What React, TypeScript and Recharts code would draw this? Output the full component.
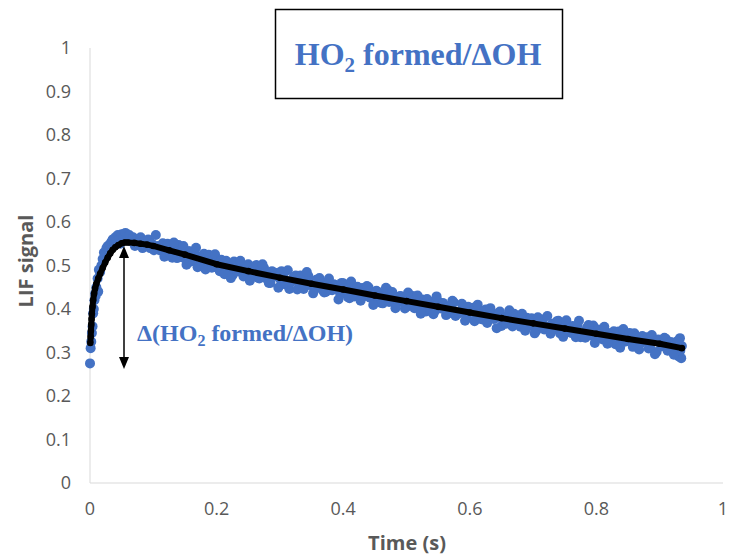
import React from "react";
import { ScatterChart, Scatter, XAxis, YAxis } from "recharts";

// measured LIF signal (time in s)
const dataTime = [
  0.0, 0.001, 0.002, 0.003, 0.004, 0.005, 0.006, 0.007, 0.008, 0.009, 0.01, 0.012, 0.013, 0.014,
  0.016, 0.018, 0.02, 0.022, 0.024, 0.026, 0.028, 0.03, 0.032, 0.034, 0.036, 0.038, 0.04, 0.042,
  0.044, 0.046, 0.048, 0.05, 0.053, 0.056, 0.059, 0.062, 0.065, 0.068, 0.071, 0.074, 0.077, 0.08,
  0.083, 0.086, 0.089, 0.092, 0.095, 0.098, 0.101, 0.104, 0.107, 0.11,
  0.115, 0.12, 0.125, 0.13, 0.135, 0.14, 0.145, 0.15, 0.155, 0.16, 0.165, 0.17, 0.175, 0.18,
  0.185, 0.19, 0.195, 0.2, 0.205, 0.21, 0.215, 0.22, 0.225, 0.23, 0.235, 0.24, 0.245, 0.25,
  0.255, 0.26, 0.265, 0.27, 0.275, 0.28, 0.285, 0.29, 0.295, 0.3, 0.305, 0.31, 0.315, 0.32,
  0.325, 0.33, 0.335, 0.34, 0.345, 0.35, 0.355, 0.36, 0.365, 0.37, 0.375, 0.38, 0.385, 0.39,
  0.395, 0.4, 0.405, 0.41, 0.415, 0.42, 0.425, 0.43, 0.435, 0.44, 0.445, 0.45, 0.455, 0.46,
  0.465, 0.47, 0.475, 0.48, 0.485, 0.49, 0.495, 0.5, 0.505, 0.51, 0.515, 0.52, 0.525, 0.53,
  0.535, 0.54, 0.545, 0.55, 0.555, 0.56, 0.565, 0.57, 0.575, 0.58, 0.585, 0.59, 0.595, 0.6,
  0.605, 0.61, 0.615, 0.62, 0.625, 0.63, 0.635, 0.64, 0.645, 0.65, 0.655, 0.66, 0.665, 0.67,
  0.675, 0.68, 0.685, 0.69, 0.695, 0.7, 0.705, 0.71, 0.715, 0.72, 0.725, 0.73, 0.735, 0.74,
  0.745, 0.75, 0.755, 0.76, 0.765, 0.77, 0.775, 0.78, 0.785, 0.79, 0.795, 0.8, 0.805, 0.81,
  0.815, 0.82, 0.825, 0.83, 0.835, 0.84, 0.845, 0.85, 0.855, 0.86, 0.865, 0.87, 0.875, 0.88,
  0.885, 0.89, 0.895, 0.9, 0.905, 0.91, 0.915, 0.92, 0.925, 0.93, 0.932, 0.934, 0.935,
];
const dataSignal = [
  0.275, 0.31, 0.325, 0.345, 0.36, 0.39, 0.4, 0.42, 0.435, 0.43, 0.45, 0.47, 0.44, 0.49,
  0.485, 0.5, 0.515, 0.53, 0.525, 0.54, 0.545, 0.535, 0.55, 0.555, 0.56, 0.548, 0.565, 0.555,
  0.57, 0.56, 0.55, 0.572, 0.565, 0.575, 0.56, 0.57, 0.555, 0.565, 0.545, 0.56, 0.55, 0.565,
  0.54, 0.555, 0.545, 0.56, 0.54, 0.55, 0.535, 0.57, 0.545, 0.535,
  0.551, 0.532, 0.543, 0.518, 0.534, 0.547, 0.519, 0.523, 0.533, 0.509, 0.523, 0.496, 0.521, 0.527,
  0.506, 0.497, 0.507, 0.512, 0.487, 0.506, 0.511, 0.491, 0.477, 0.497, 0.503, 0.489, 0.48, 0.503,
  0.482, 0.492, 0.472, 0.482, 0.494, 0.471, 0.46, 0.48, 0.483, 0.469, 0.478, 0.456, 0.446, 0.469,
  0.477, 0.459, 0.471, 0.453, 0.476, 0.456, 0.445, 0.461, 0.456, 0.438, 0.462, 0.444, 0.457, 0.451,
  0.436, 0.459, 0.441, 0.425, 0.448, 0.44, 0.43, 0.448, 0.43, 0.45, 0.431, 0.42, 0.439, 0.414,
  0.431, 0.444, 0.418, 0.426, 0.413, 0.43, 0.417, 0.405, 0.423, 0.43, 0.41, 0.406, 0.422, 0.394,
  0.411, 0.416, 0.396, 0.418, 0.401, 0.407, 0.389, 0.407, 0.415, 0.392, 0.395, 0.404, 0.378, 0.396,
  0.403, 0.381, 0.39, 0.376, 0.399, 0.378, 0.389, 0.378, 0.39, 0.361, 0.379, 0.385, 0.366, 0.389,
  0.369, 0.359, 0.376, 0.38, 0.361, 0.37, 0.35, 0.374, 0.376, 0.36, 0.351, 0.366, 0.354, 0.373,
  0.344, 0.359, 0.361, 0.345, 0.352, 0.362, 0.335, 0.345, 0.357, 0.339, 0.362, 0.334, 0.344, 0.33,
  0.347, 0.343, 0.333, 0.319, 0.348, 0.336, 0.325, 0.34, 0.329, 0.344, 0.318, 0.322, 0.331, 0.335,
  0.31, 0.326, 0.301, 0.328, 0.317, 0.331, 0.308, 0.302, 0.323, 0.291, 0.333, 0.287, 0.315,
];

// in-between samples of the same trace
const dataTime2 = [
  0.1175, 0.1225, 0.1275, 0.1325, 0.1375, 0.1425, 0.1475, 0.1525, 0.1575, 0.1625, 0.1675, 0.1725,
  0.1775, 0.1825, 0.1875, 0.1925, 0.1975, 0.2025, 0.2075, 0.2125, 0.2175, 0.2225, 0.2275, 0.2325,
  0.2375, 0.2425, 0.2475, 0.2525, 0.2575, 0.2625, 0.2675, 0.2725, 0.2775, 0.2825, 0.2875, 0.2925,
  0.2975, 0.3025, 0.3075, 0.3125, 0.3175, 0.3225, 0.3275, 0.3325, 0.3375, 0.3425, 0.3475, 0.3525,
  0.3575, 0.3625, 0.3675, 0.3725, 0.3775, 0.3825, 0.3875, 0.3925, 0.3975, 0.4025, 0.4075, 0.4125,
  0.4175, 0.4225, 0.4275, 0.4325, 0.4375, 0.4425, 0.4475, 0.4525, 0.4575, 0.4625, 0.4675, 0.4725,
  0.4775, 0.4825, 0.4875, 0.4925, 0.4975, 0.5025, 0.5075, 0.5125, 0.5175, 0.5225, 0.5275, 0.5325,
  0.5375, 0.5425, 0.5475, 0.5525, 0.5575, 0.5625, 0.5675, 0.5725, 0.5775, 0.5825, 0.5875, 0.5925,
  0.5975, 0.6025, 0.6075, 0.6125, 0.6175, 0.6225, 0.6275, 0.6325, 0.6375, 0.6425, 0.6475, 0.6525,
  0.6575, 0.6625, 0.6675, 0.6725, 0.6775, 0.6825, 0.6875, 0.6925, 0.6975, 0.7025, 0.7075, 0.7125,
  0.7175, 0.7225, 0.7275, 0.7325, 0.7375, 0.7425, 0.7475, 0.7525, 0.7575, 0.7625, 0.7675, 0.7725,
  0.7775, 0.7825, 0.7875, 0.7925, 0.7975, 0.8025, 0.8075, 0.8125, 0.8175, 0.8225, 0.8275, 0.8325,
  0.8375, 0.8425, 0.8475, 0.8525, 0.8575, 0.8625, 0.8675, 0.8725, 0.8775, 0.8825, 0.8875, 0.8925,
  0.8975, 0.9025, 0.9075, 0.9125, 0.9175, 0.9225, 0.9275, 0.9325,
];
const dataSignal2 = [
  0.52, 0.55, 0.525, 0.553, 0.517, 0.534, 0.545, 0.502, 0.533, 0.513, 0.541, 0.499,
  0.516, 0.491, 0.525, 0.495, 0.526, 0.498, 0.513, 0.48, 0.505, 0.471, 0.509, 0.486,
  0.511, 0.475, 0.498, 0.465, 0.49, 0.501, 0.47, 0.503, 0.471, 0.46, 0.487, 0.476,
  0.449, 0.487, 0.46, 0.489, 0.462, 0.474, 0.445, 0.477, 0.446, 0.485, 0.455, 0.436,
  0.467, 0.471, 0.444, 0.439, 0.47, 0.443, 0.455, 0.422, 0.46, 0.448, 0.427, 0.463,
  0.429, 0.451, 0.419, 0.443, 0.453, 0.426, 0.409, 0.442, 0.43, 0.413, 0.449, 0.416,
  0.439, 0.402, 0.427, 0.429, 0.401, 0.438, 0.412, 0.402, 0.431, 0.389, 0.419, 0.423,
  0.4, 0.388, 0.429, 0.402, 0.414, 0.386, 0.407, 0.419, 0.384, 0.39, 0.412, 0.373,
  0.405, 0.394, 0.372, 0.41, 0.377, 0.394, 0.368, 0.402, 0.377, 0.356, 0.394, 0.379,
  0.366, 0.397, 0.36, 0.383, 0.365, 0.389, 0.35, 0.373, 0.379, 0.344, 0.381, 0.361,
  0.353, 0.384, 0.343, 0.365, 0.372, 0.344, 0.336, 0.374, 0.352, 0.361, 0.335, 0.373,
  0.34, 0.334, 0.363, 0.348, 0.322, 0.353, 0.335, 0.359, 0.32, 0.344, 0.349, 0.325,
  0.311, 0.354, 0.329, 0.345, 0.313, 0.336, 0.307, 0.338, 0.327, 0.309, 0.34, 0.296,
  0.33, 0.314, 0.334, 0.304, 0.324, 0.295, 0.326, 0.304,
];

// fitted model curve
const fitTime = [
  0.0005, 0.001, 0.0015, 0.002, 0.0025, 0.003, 0.004, 0.005, 0.0065, 0.008, 0.01, 0.013, 0.016,
  0.02, 0.024, 0.028, 0.032, 0.036, 0.04, 0.045, 0.05, 0.055, 0.06, 0.07, 0.08, 0.09, 0.1, 0.125,
  0.15, 0.2, 0.25, 0.3, 0.35, 0.4, 0.45, 0.5, 0.55, 0.6, 0.65, 0.7, 0.75, 0.8, 0.85, 0.9, 0.935,
];
const fitSignal = [
  0.322, 0.336, 0.35, 0.364, 0.377, 0.389, 0.405, 0.42, 0.435, 0.447, 0.458, 0.47, 0.481,
  0.494, 0.507, 0.518, 0.528, 0.536, 0.542, 0.547, 0.551, 0.553, 0.553, 0.552, 0.55, 0.548, 0.545, 0.535,
  0.525, 0.503, 0.487, 0.472, 0.458, 0.445, 0.431, 0.418, 0.405, 0.392, 0.379, 0.367, 0.355, 0.343, 0.331, 0.32, 0.31,
];

const xTicks = [0, 0.2, 0.4, 0.6, 0.8, 1];
const yTicks = [0, 0.1, 0.2, 0.3, 0.4, 0.5, 0.6, 0.7, 0.8, 0.9, 1];

const measured = [
  ...dataTime.map((t, i) => ({ x: t, y: dataSignal[i] })),
  ...dataTime2.map((t, i) => ({ x: t, y: dataSignal2[i] })),
];
const fit = fitTime.map((t, i) => ({ x: t, y: fitSignal[i] }));

const BLUE = "#4472C4";
const GREY = "#595959";
const FONT = "'Open Sans', sans-serif";
const SERIF = "'Liberation Serif', 'Times New Roman', serif";

export default function App() {
  return (
    <div style={{ position: "absolute", left: 0, top: 0, width: 731, height: 555, background: "#fff" }}>
      <ScatterChart width={731} height={555} margin={{ top: 48, right: 8, bottom: 42, left: 30 }}>
        <XAxis
          type="number"
          dataKey="x"
          domain={[0, 1]}
          ticks={xTicks}
          height={30}
          tickLine={false}
          tickMargin={13}
          axisLine={{ stroke: "#d9d9d9" }}
          tick={{ fill: GREY, fontSize: 18, fontFamily: FONT }}
        />
        <YAxis
          type="number"
          dataKey="y"
          domain={[0, 1]}
          ticks={yTicks}
          width={60}
          tickLine={false}
          tickMargin={13}
          axisLine={{ stroke: "#d9d9d9" }}
          tick={{ fill: GREY, fontSize: 18, fontFamily: FONT }}
        />
        <Scatter
          data={measured}
          isAnimationActive={false}
          shape={(p: any) => <circle cx={p.cx} cy={p.cy} r={5} fill={BLUE} />}
        />
        <Scatter
          data={fit}
          isAnimationActive={false}
          line={{ stroke: "#000", strokeWidth: 6, strokeLinejoin: "round" }}
          lineType="joint"
          shape={(p: any) => <circle cx={p.cx} cy={p.cy} r={3.3} fill="#000" />}
        />
      </ScatterChart>

      <svg width={731} height={555} style={{ position: "absolute", left: 0, top: 0, pointerEvents: "none" }}>
        <rect x={275.5} y={9.5} width={287} height={89} fill="#fff" stroke="#000" strokeWidth={1.5} />
        <text x={418} y={65} textAnchor="middle" fill={BLUE} fontFamily={SERIF} fontWeight="bold" fontSize={32}>
          HO<tspan fontSize={21} dy={7}>2</tspan>
          <tspan dy={-7}> formed/ΔOH</tspan>
        </text>

        <line x1={124} y1={256} x2={124} y2={358} stroke="#000" strokeWidth={1.5} />
        <polygon points="124,246 119,258 129,258" fill="#000" />
        <polygon points="124,369 119,357 129,357" fill="#000" />

        <text x={137} y={341} fill={BLUE} fontFamily={SERIF} fontWeight="bold" fontSize={24}>
          Δ(HO<tspan fontSize={16} dy={5}>2</tspan>
          <tspan dy={-5}> formed/ΔOH)</tspan>
        </text>

        <text
          transform="translate(33,261) rotate(-90)"
          textAnchor="middle"
          fill={GREY}
          fontFamily={FONT}
          fontWeight="bold"
          fontSize={20}
        >
          LIF signal
        </text>
        <text x={407} y={550} textAnchor="middle" fill={GREY} fontFamily={FONT} fontWeight="bold" fontSize={20}>
          Time (s)
        </text>
      </svg>
    </div>
  );
}
